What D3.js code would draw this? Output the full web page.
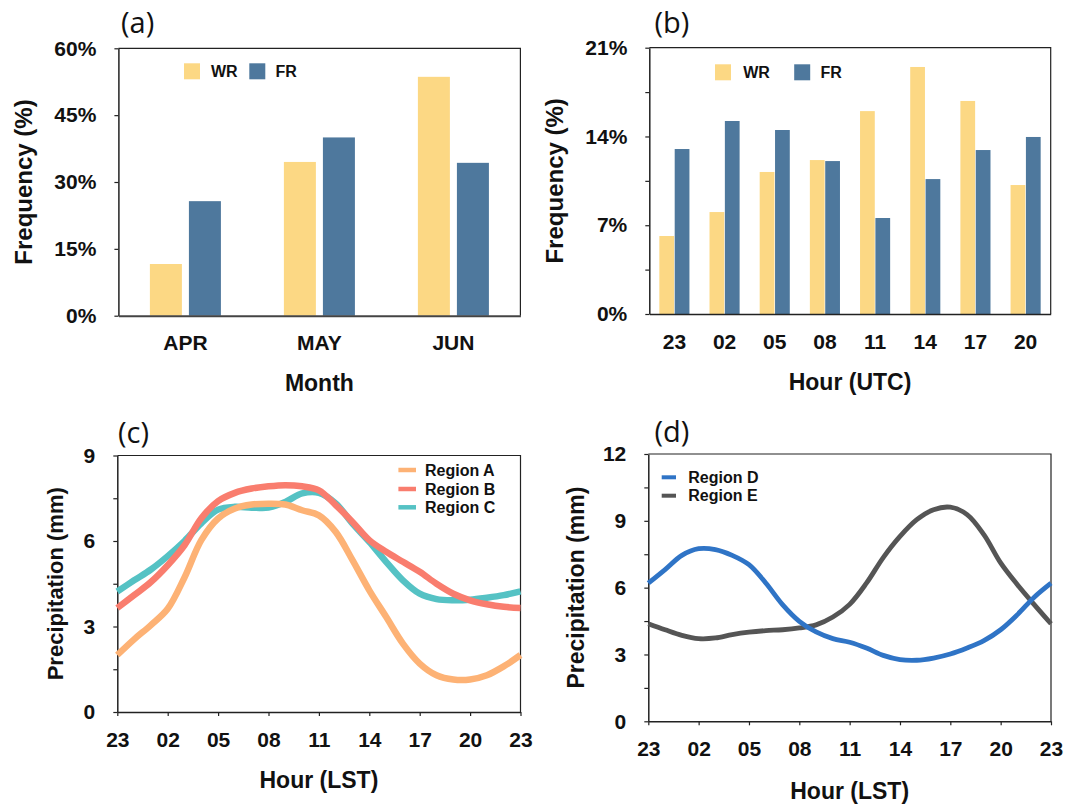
<!DOCTYPE html>
<html><head><meta charset="utf-8">
<script src="https://cdn.jsdelivr.net/npm/d3@7"></script>
<style>
body{margin:0;background:#fff;}
svg{display:block;}
</style></head><body>
<svg id="chart" width="1066" height="804"></svg>
<script>
// ---------------- data ----------------
const months = ["APR", "MAY", "JUN"];
const monthWR = [11.6, 34.5, 53.6];
const monthFR = [25.7, 40.0, 34.3];

const utcHours = ["23", "02", "05", "08", "11", "14", "17", "20"];
const utcWR = [6.15, 8.04, 11.2, 12.14, 16.0, 19.48, 16.8, 10.17];
const utcFR = [13.01, 15.22, 14.51, 12.06, 7.57, 10.64, 12.93, 13.96];

const freqTicksA = [0, 15, 30, 45, 60];
const freqTicksB = [0, 7, 14, 21];
const freqMinorB = [3.5, 10.5, 17.5];

// hourly local time, 23 LST through 23 LST the next day
const lstHours = ["23","00","01","02","03","04","05","06","07","08","09","10","11",
                  "12","13","14","15","16","17","18","19","20","21","22","23"];
const lstTickLabels = ["23", "02", "05", "08", "11", "14", "17", "20", "23"];

const regionA = [2.0, 2.55, 3.05, 3.62, 4.72, 6.03, 6.79, 7.14, 7.28, 7.31, 7.28, 7.08, 6.9,
                 6.32, 5.33, 4.27, 3.34, 2.4, 1.7, 1.29, 1.14, 1.14, 1.29, 1.6, 2.0];
const regionB = [3.65, 4.1, 4.56, 5.15, 5.85, 6.8, 7.4, 7.69, 7.84, 7.92, 7.96, 7.92, 7.78,
                 7.26, 6.67, 6.03, 5.62, 5.27, 4.92, 4.5, 4.15, 3.92, 3.78, 3.69, 3.65];
const regionC = [4.23, 4.62, 5.0, 5.47, 6.0, 6.62, 7.1, 7.2, 7.17, 7.17, 7.37, 7.67, 7.69,
                 7.32, 6.61, 5.97, 5.27, 4.62, 4.15, 3.96, 3.92, 3.94, 4.01, 4.1, 4.23];
const regionD = [6.2, 6.81, 7.45, 7.75, 7.71, 7.45, 7.03, 6.21, 5.24, 4.49, 4.01, 3.71, 3.55,
                 3.29, 2.96, 2.77, 2.74, 2.84, 3.02, 3.29, 3.62, 4.11, 4.79, 5.57, 6.2];
const regionE = [4.38, 4.11, 3.86, 3.71, 3.74, 3.89, 4.0, 4.07, 4.11, 4.19, 4.33, 4.68, 5.25,
                 6.2, 7.35, 8.3, 9.05, 9.5, 9.61, 9.28, 8.38, 7.11, 6.13, 5.24, 4.38];

const precipTicksC = [0, 3, 6, 9];
const precipMinorC = [1.5, 4.5, 7.5];
const precipTicksD = [0, 3, 6, 9, 12];
const precipMinorD = [1.5, 4.5, 7.5, 10.5];

// ---------------- style ----------------
const FONT = "'Liberation Sans', Arial, Helvetica, sans-serif";
const COL_WR = "#FCD884", COL_FR = "#4E789D";
const COL_A = "#FDB275", COL_B = "#F97D6E", COL_C = "#55C2C4", COL_D = "#2F74C6", COL_E = "#555555";
const AXIS_COL = "#222";

const svg = d3.select("#chart");

function styleAxis(g, size) {
  g.attr("font-size", size).attr("font-family", FONT).attr("font-weight", "bold");
  g.selectAll("text").attr("fill", "#111");
  g.selectAll("line").attr("stroke", AXIS_COL).attr("stroke-width", 1.2);
  g.select(".domain").attr("stroke", AXIS_COL).attr("stroke-width", 1.5);
}

function frame(P) {
  svg.append("path")
    .attr("d", `M${P.l},${P.t}H${P.r}V${P.b}`)
    .attr("fill", "none").attr("stroke", AXIS_COL).attr("stroke-width", 1.2);
}

function yAxis(P, y, major, minor, fmt) {
  const vals = major.concat(minor);
  const g = svg.append("g").attr("transform", `translate(${P.l},0)`)
    .call(d3.axisLeft(y).tickValues(vals).tickSize(4).tickSizeOuter(0).tickPadding(18)
      .tickFormat(d => major.includes(d) ? fmt(d) : ""));
  styleAxis(g, 21);
  return g;
}

function panelLabel(txt, x, y) {
  svg.append("text").attr("x", x).attr("y", y).text(txt)
    .attr("font-family", "'Open Sans', 'Noto Sans', sans-serif").attr("font-size", 29)
    .attr("fill", "#111");
}

function title(txt, x, y, rotate, size) {
  const t = svg.append("text").text(txt)
    .attr("font-family", FONT).attr("font-weight", "bold").attr("font-size", size || 23)
    .attr("text-anchor", "middle").attr("fill", "#111");
  if (rotate) t.attr("transform", `translate(${x},${y}) rotate(-90)`);
  else t.attr("x", x).attr("y", y);
}

function barLegend(items, y0) {
  items.forEach(it => {
    svg.append("rect").attr("x", it.sx).attr("y", y0).attr("width", 16).attr("height", 16).attr("fill", it.color);
    svg.append("text").attr("x", it.tx).attr("y", y0 + 13.6).text(it.label)
      .attr("font-family", FONT).attr("font-weight", "bold").attr("font-size", 16).attr("fill", "#111");
  });
}

function lineLegend(items, x0, x1, tx, width) {
  items.forEach(it => {
    svg.append("line").attr("x1", x0).attr("x2", x1).attr("y1", it.y).attr("y2", it.y)
      .attr("stroke", it.color).attr("stroke-width", width);
    svg.append("text").attr("x", tx).attr("y", it.y + 5.7).text(it.label)
      .attr("font-family", FONT).attr("font-weight", "bold").attr("font-size", 16).attr("fill", "#111");
  });
}

// ---------------- panel (a) ----------------
(function () {
  const P = {l: 118.4, r: 520.4, t: 48.3, b: 315.7};
  const x0 = d3.scaleBand().domain(months).range([P.l, P.r]).paddingInner(0.47).paddingOuter(0.235);
  const x1 = d3.scaleBand().domain(["WR", "FR"]).range([0, x0.bandwidth()]).paddingInner(0.18);
  const y = d3.scaleLinear().domain([0, 60]).range([P.b, P.t]);
  const rows = months.map((m, i) => ({m, WR: monthWR[i], FR: monthFR[i]}));
  const grp = svg.append("g").selectAll("g").data(rows).join("g")
    .attr("transform", d => `translate(${x0(d.m)},0)`);
  grp.selectAll("rect").data(d => [{k: "WR", v: d.WR}, {k: "FR", v: d.FR}]).join("rect")
    .attr("x", d => x1(d.k)).attr("width", x1.bandwidth())
    .attr("y", d => y(d.v)).attr("height", d => y(0) - y(d.v))
    .attr("fill", d => d.k === "WR" ? COL_WR : COL_FR);
  frame(P);
  yAxis(P, y, freqTicksA, [], d => d + "%");
  const gx = svg.append("g").attr("transform", `translate(0,${P.b})`)
    .call(d3.axisBottom(x0).tickSize(0).tickPadding(19.6));
  styleAxis(gx, 21);
  gx.select(".domain").attr("stroke", "#444").attr("stroke-width", 2);
  barLegend([{sx: 184, tx: 210.9, color: COL_WR, label: "WR"},
             {sx: 249.3, tx: 275.5, color: COL_FR, label: "FR"}], 63.3);
  panelLabel("(a)", 121, 32.5);
  title("Month", (P.l + P.r) / 2, 390.7);
  title("Frequency (%)", 32.3, (P.t + P.b) / 2, true, 24);
})();

// ---------------- panel (b) ----------------
(function () {
  const P = {l: 649.3, r: 1050.7, t: 47.7, b: 314};
  const x0 = d3.scaleBand().domain(utcHours).range([P.l, P.r]).paddingInner(0.4).paddingOuter(0.2);
  const x1 = d3.scaleBand().domain(["WR", "FR"]).range([0, x0.bandwidth()]).paddingInner(0.04);
  const y = d3.scaleLinear().domain([0, 21]).range([P.b, P.t]);
  const rows = utcHours.map((h, i) => ({h, WR: utcWR[i], FR: utcFR[i]}));
  const grp = svg.append("g").selectAll("g").data(rows).join("g")
    .attr("transform", d => `translate(${x0(d.h)},0)`);
  grp.selectAll("rect").data(d => [{k: "WR", v: d.WR}, {k: "FR", v: d.FR}]).join("rect")
    .attr("x", d => x1(d.k)).attr("width", x1.bandwidth())
    .attr("y", d => y(d.v)).attr("height", d => y(0) - y(d.v))
    .attr("fill", d => d.k === "WR" ? COL_WR : COL_FR);
  frame(P);
  yAxis(P, y, freqTicksB, freqMinorB, d => d + "%");
  const gx = svg.append("g").attr("transform", `translate(0,${P.b})`)
    .call(d3.axisBottom(x0).tickSize(0).tickPadding(19.6));
  styleAxis(gx, 21);
  barLegend([{sx: 715, tx: 743.2, color: COL_WR, label: "WR"},
             {sx: 794.2, tx: 820.4, color: COL_FR, label: "FR"}], 64.3);
  panelLabel("(b)", 654.5, 32.5);
  title("Hour (UTC)", (P.l + P.r) / 2, 390);
  title("Frequency (%)", 563, (P.t + P.b) / 2, true, 24);
})();

// ---------------- line panels ----------------
function linePanel(P, yMax, major, minor, series, strokeW) {
  const x = d3.scaleLinear().domain([0, lstHours.length - 1]).range([P.l, P.r]);
  const y = d3.scaleLinear().domain([0, yMax]).range([P.b, P.t]);
  const line = d3.line().x((d, i) => x(i)).y(d => y(d)).curve(d3.curveCatmullRom.alpha(0.5));
  frame(P);
  yAxis(P, y, major, minor, d => d);
  const tickIdx = lstTickLabels.map((lab, k) => k * 3);
  const gx = svg.append("g").attr("transform", `translate(0,${P.b})`)
    .call(d3.axisBottom(x).tickValues(tickIdx).tickSize(4).tickSizeOuter(0).tickPadding(15.6)
      .tickFormat((d, k) => lstTickLabels[k]));
  styleAxis(gx, 21);
  series.forEach(s => {
    svg.append("path").datum(s.values).attr("d", line)
      .attr("fill", "none").attr("stroke", s.color).attr("stroke-width", strokeW)
      .attr("stroke-linejoin", "round");
  });
}

// panel (c)
(function () {
  const P = {l: 117.3, r: 520.5, t: 455.5, b: 712};
  linePanel(P, 9, precipTicksC, precipMinorC, [
    {values: regionC, color: COL_C},
    {values: regionA, color: COL_A},
    {values: regionB, color: COL_B}
  ], 6.5);
  lineLegend([{y: 470, color: COL_A, label: "Region A"},
              {y: 489, color: COL_B, label: "Region B"},
              {y: 507.3, color: COL_C, label: "Region C"}], 398.4, 416, 425, 4.5);
  panelLabel("(c)", 118, 442.5);
  title("Hour (LST)", (P.l + P.r) / 2, 788.3);
  title("Precipitation (mm)", 63, (P.t + P.b) / 2, true, 22);
})();

// panel (d)
(function () {
  const P = {l: 648.3, r: 1051, t: 454, b: 721.3};
  linePanel(P, 12, precipTicksD, precipMinorD, [
    {values: regionE, color: COL_E},
    {values: regionD, color: COL_D}
  ], 4.8);
  lineLegend([{y: 477.3, color: COL_D, label: "Region D"},
              {y: 495.7, color: COL_E, label: "Region E"}], 661.7, 676, 688.3, 4);
  panelLabel("(d)", 654.5, 441.5);
  title("Hour (LST)", (P.l + P.r) / 2, 799);
  title("Precipitation (mm)", 583.5, (P.t + P.b) / 2, true, 23);
})();
</script>
</body></html>
